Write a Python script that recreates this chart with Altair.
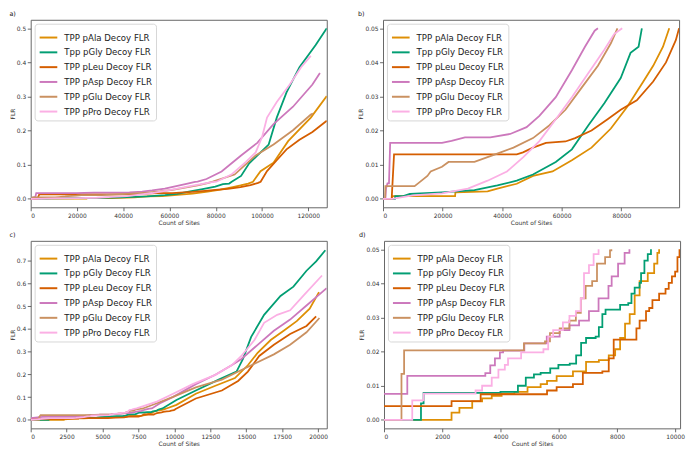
import altair as alt
import pandas as pd

series = ["TPP pAla Decoy FLR", "Tpp pGly Decoy FLR", "TPP pLeu Decoy FLR",
          "TPP pAsp Decoy FLR", "TPP pGlu Decoy FLR", "TPP pPro Decoy FLR"]
colors = ["#DE8F05", "#029E73", "#D55E00", "#CC78BC", "#CA9161", "#FBAFE4"]

# ---- top row data (panels a and b: same data, b zoomed to FLR <= 0.05) ----
ala_top_x = [0, 3000, 3100, 24200, 24300, 35100, 38400, 44900, 50350, 56900, 63400, 70000, 76500, 82000, 87400, 90700, 94000, 96100, 99370, 104980, 111300, 121100, 128000]
ala_top_y = [0, 0, 0.0008, 0.0008, 0.0019, 0.0022, 0.003, 0.0044, 0.0067, 0.008, 0.0113, 0.015, 0.0206, 0.027, 0.0344, 0.039, 0.0446, 0.05, 0.081, 0.106, 0.169, 0.238, 0.301]
gly_top_x = [0, 4000, 4100, 6800, 9000, 19800, 30700, 38400, 44900, 50350, 58000, 63400, 68900, 74300, 79800, 83100, 85800, 86900, 90950, 94460, 99370, 102880, 106380, 110600, 116200, 123200, 128000]
gly_top_y = [0, 0, 0.0008, 0.0008, 0.0014, 0.0019, 0.0025, 0.0039, 0.0053, 0.0071, 0.0108, 0.0145, 0.0215, 0.028, 0.0354, 0.0428, 0.0446, 0.05, 0.067, 0.104, 0.136, 0.159, 0.238, 0.312, 0.386, 0.451, 0.5]
leu_top_x = [0, 2900, 3000, 3700, 44900, 47000, 50350, 54700, 61250, 64500, 70000, 75400, 79800, 85200, 90700, 95000, 98300, 99400, 102170, 106380, 110600, 116200, 121800, 128000]
leu_top_y = [0, 0, 0.0015, 0.013, 0.013, 0.0136, 0.015, 0.0164, 0.0168, 0.0178, 0.020, 0.0233, 0.0261, 0.0289, 0.0344, 0.040, 0.0465, 0.05, 0.081, 0.113, 0.145, 0.173, 0.196, 0.229]
asp_top_x = [0, 800, 1000, 1500, 2000, 2400, 19800, 23000, 27500, 36000, 42700, 48200, 52500, 58000, 63400, 67800, 71060, 72150, 76000, 82530, 90950, 97960, 104980, 113400, 121800, 125050]
asp_top_y = [0, 0, 0.003, 0.0045, 0.0045, 0.0164, 0.0164, 0.017, 0.018, 0.018, 0.019, 0.021, 0.0243, 0.0298, 0.0377, 0.0446, 0.0493, 0.05, 0.058, 0.08, 0.127, 0.164, 0.219, 0.27, 0.335, 0.369]
glu_top_x = [0, 700, 800, 10600, 12200, 14900, 16000, 19800, 22000, 30700, 35100, 39500, 43800, 50350, 55800, 61250, 66700, 72150, 76500, 78700, 88140, 97260, 104980, 113400, 121100, 122000]
glu_top_y = [0, 0, 0.0037, 0.0037, 0.0048, 0.0067, 0.008, 0.0094, 0.0108, 0.0108, 0.0122, 0.0136, 0.015, 0.0178, 0.0215, 0.0261, 0.0326, 0.039, 0.0456, 0.05, 0.071, 0.127, 0.159, 0.201, 0.247, 0.25]
pro_top_x = [0, 3000, 10000, 19800, 28500, 35100, 41600, 47100, 52500, 58000, 63400, 68900, 74300, 77600, 80300, 86740, 93050, 97260, 100070, 102170, 106380, 112000, 116900, 121100]
pro_top_y = [0, 0, 0.001, 0.0016, 0.003, 0.0053, 0.008, 0.0122, 0.0169, 0.0233, 0.0298, 0.0368, 0.0437, 0.0483, 0.05, 0.071, 0.108, 0.136, 0.182, 0.238, 0.284, 0.335, 0.386, 0.419]

# ---- bottom row data (panels c and d: same data, d zoomed to FLR <= 0.05) ----
ala_bot_x = [0, 2310, 2320, 2590, 3030, 3370, 3700, 4040, 4480, 4930, 5380, 5600, 5930, 6490, 6940, 7380, 7720, 7940, 8110, 8280, 8440, 8610, 8780, 9060, 9280, 9390, 9450, 10140, 11490, 12850, 14210, 15110, 15790, 16700, 17600, 18510, 19410, 20060]
ala_bot_y = [0, 0, 0.0021, 0.0035, 0.0054, 0.0063, 0.007, 0.0077, 0.0082, 0.0096, 0.0105, 0.0114, 0.0128, 0.0142, 0.017, 0.0175, 0.0189, 0.0207, 0.024, 0.0282, 0.031, 0.0365, 0.0407, 0.043, 0.0458, 0.049, 0.05, 0.066, 0.115, 0.15, 0.184, 0.24, 0.295, 0.351, 0.392, 0.434, 0.489, 0.562]
gly_bot_x = [0, 1250, 1270, 1360, 3930, 4000, 4600, 4870, 5150, 5380, 5710, 5990, 6380, 6600, 6770, 6940, 7270, 7380, 7500, 7610, 7940, 8110, 8390, 8500, 8610, 8780, 8830, 8945, 9060, 9170, 10140, 11490, 13080, 14320, 14770, 15340, 16240, 17380, 18280, 19190, 19860, 20500]
gly_bot_y = [0, 0, 0.0048, 0.0079, 0.0079, 0.0082, 0.01, 0.0124, 0.0133, 0.0138, 0.0151, 0.0161, 0.0165, 0.0189, 0.0226, 0.024, 0.0244, 0.0272, 0.031, 0.0323, 0.0323, 0.0337, 0.0342, 0.037, 0.0388, 0.0402, 0.043, 0.0467, 0.0486, 0.05, 0.087, 0.129, 0.177, 0.212, 0.268, 0.365, 0.462, 0.545, 0.586, 0.656, 0.697, 0.746]
leu_bot_x = [0, 2310, 2320, 3310, 3320, 5380, 5600, 5930, 6490, 6830, 7500, 7720, 7890, 8560, 8670, 8780, 9000, 9110, 9220, 9450, 9670, 9780, 9890, 10000, 10080, 10150, 11490, 13300, 14430, 15110, 15900, 16920, 18050, 19190, 19860]
leu_bot_y = [0.004, 0.004, 0.0055, 0.0055, 0.0075, 0.0075, 0.0086, 0.0096, 0.0105, 0.0138, 0.0142, 0.018, 0.0235, 0.0235, 0.0268, 0.0291, 0.0319, 0.0328, 0.0351, 0.037, 0.0384, 0.0402, 0.0421, 0.0435, 0.0477, 0.05, 0.094, 0.129, 0.171, 0.212, 0.281, 0.33, 0.378, 0.413, 0.455]
asp_bot_x = [0, 800, 3370, 3480, 3650, 3810, 3980, 4090, 4820, 5590, 6034, 6370, 6700, 7040, 7370, 7710, 7820, 8040, 8265, 8430, 9000, 9910, 11490, 12850, 13980, 14660, 15790, 16920, 18050, 19190, 20090, 20590]
asp_bot_y = [0.0076, 0.0129, 0.0129, 0.0137, 0.016, 0.018, 0.0198, 0.0203, 0.0224, 0.0244, 0.0263, 0.0277, 0.0291, 0.0319, 0.0356, 0.0393, 0.0421, 0.0458, 0.049, 0.05, 0.073, 0.101, 0.157, 0.198, 0.24, 0.268, 0.33, 0.392, 0.441, 0.503, 0.552, 0.579]
glu_bot_x = [0, 580, 600, 690, 4780, 4806, 5530, 5700, 6034, 6370, 6590, 6760, 6926, 7150, 7316, 7595, 7763, 7810, 8780, 9910, 11490, 13300, 14660, 15570, 16920, 18050, 19190, 20090]
glu_bot_y = [0, 0, 0.0135, 0.0204, 0.0204, 0.0224, 0.023, 0.0254, 0.0268, 0.0291, 0.0314, 0.0356, 0.0393, 0.0407, 0.0458, 0.0477, 0.0497, 0.05, 0.073, 0.101, 0.143, 0.177, 0.219, 0.247, 0.288, 0.33, 0.385, 0.448]
pro_bot_x = [0, 970, 1360, 2920, 3145, 3370, 3700, 3930, 4150, 4260, 4710, 5476, 5640, 5810, 6145, 6370, 6590, 6760, 6870, 7040, 7200, 7370, 8780, 9910, 11270, 12850, 13980, 14660, 15570, 16240, 17150, 18050, 18960, 20270]
pro_bot_y = [0, 0.0057, 0.0077, 0.0077, 0.0086, 0.01, 0.0124, 0.0147, 0.0161, 0.018, 0.0198, 0.0207, 0.0244, 0.0263, 0.0286, 0.0305, 0.0319, 0.0356, 0.043, 0.0454, 0.0486, 0.05, 0.08, 0.115, 0.157, 0.198, 0.24, 0.281, 0.351, 0.427, 0.462, 0.482, 0.545, 0.635]

top_x = [ala_top_x, gly_top_x, leu_top_x, asp_top_x, glu_top_x, pro_top_x]
top_y = [ala_top_y, gly_top_y, leu_top_y, asp_top_y, glu_top_y, pro_top_y]
bot_x = [ala_bot_x, gly_bot_x, leu_bot_x, asp_bot_x, glu_bot_x, pro_bot_x]
bot_y = [ala_bot_y, gly_bot_y, leu_bot_y, asp_bot_y, glu_bot_y, pro_bot_y]


def build(xs_list, ys_list):
    rows = []
    for name, xs, ys in zip(series, xs_list, ys_list):
        for i, (x, y) in enumerate(zip(xs, ys)):
            rows.append({"series": name, "sites": x, "flr": y, "idx": i})
    return pd.DataFrame(rows)


top_df = build(top_x, top_y)
bot_df = build(bot_x, bot_y)

FONT = "DejaVu Sans"


def panel(df, label, xmax, ydom, xticks, yticks, yfmt, cap=None, interp="linear", w=300, h=190):
    base = alt.Chart(df, title=alt.TitleParams(label, anchor="start", fontSize=6.5, font=FONT,
                                               fontWeight="normal", color="#222", offset=2))
    if cap is not None:
        base = base.transform_filter(alt.datum.flr <= cap)
    return base.mark_line(strokeWidth=1.8, clip=True, interpolate=interp).encode(
        x=alt.X("sites:Q", scale=alt.Scale(domain=[0, xmax], nice=False, zero=False),
                axis=alt.Axis(values=xticks, format="d", title="Count of Sites")),
        y=alt.Y("flr:Q", scale=alt.Scale(domain=ydom, nice=False, zero=False),
                axis=alt.Axis(values=yticks, format=yfmt, title="FLR")),
        color=alt.Color("series:N", scale=alt.Scale(domain=series, range=colors),
                        legend=alt.Legend(orient="top-left", title=None, symbolType="stroke",
                                          symbolStrokeWidth=2, symbolSize=320, labelFontSize=8.7,
                                          labelFont=FONT, labelColor="#222", fillColor="white",
                                          strokeColor="#d6d6d6", cornerRadius=3, padding=4,
                                          offset=4, rowPadding=0, labelOffset=6, labelLimit=200)),
        order="idx:Q",
    ).properties(width=w, height=h)


a = panel(top_df, "a)", 128000, [-0.025, 0.525], [0, 20000, 40000, 60000, 80000, 100000, 120000],
          [0, 0.1, 0.2, 0.3, 0.4, 0.5], ".1f")
b = panel(top_df, "b)", 99400, [-0.0025, 0.0525], [0, 20000, 40000, 60000, 80000],
          [0, 0.01, 0.02, 0.03, 0.04, 0.05], ".2f", cap=0.0501)
c = panel(bot_df, "c)", 20600, [-0.0375, 0.7875], [0, 2500, 5000, 7500, 10000, 12500, 15000, 17500, 20000],
          [0, 0.1, 0.2, 0.3, 0.4, 0.5, 0.6, 0.7], ".1f")
d = panel(bot_df, "d)", 10170, [-0.0025, 0.0525], [0, 2000, 4000, 6000, 8000, 10000],
          [0, 0.01, 0.02, 0.03, 0.04, 0.05], ".2f", cap=0.0501, interp="step-after")

row1 = alt.hconcat(a, b, spacing=30).resolve_scale(color="independent").resolve_legend(color="independent")
row2 = alt.hconcat(c, d, spacing=30).resolve_scale(color="independent").resolve_legend(color="independent")

chart = alt.vconcat(row1, row2, spacing=6).resolve_scale(color="independent").resolve_legend(
    color="independent"
).properties(padding=0, background="white").configure_view(
    stroke="#666", strokeWidth=1
).configure_axis(
    domain=False, grid=False, tickColor="#444", tickSize=3.5, tickWidth=0.8,
    labelFont=FONT, titleFont=FONT, labelFontSize=6, titleFontSize=6,
    labelColor="#333", titleColor="#333", titleFontWeight="normal",
    labelPadding=1.5, titlePadding=1
)

chart.save("out.html", embed_options={"renderer": "svg", "actions": False})
